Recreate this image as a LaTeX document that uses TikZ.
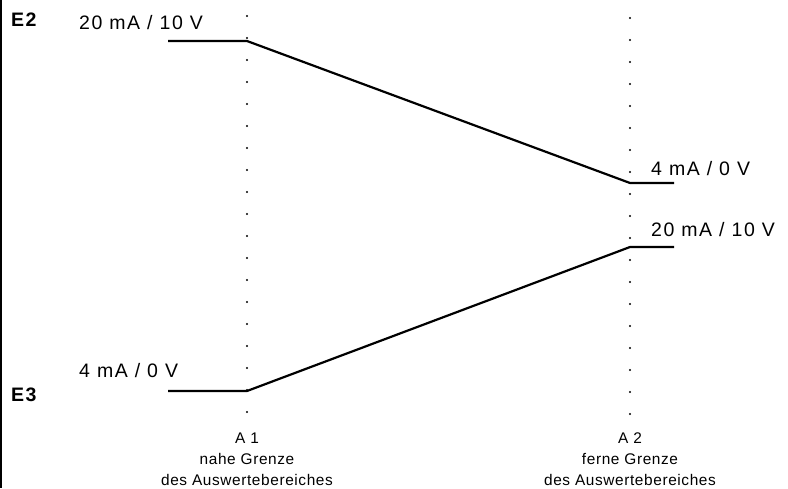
\documentclass[tikz,border=0pt]{standalone}
\usepackage{fontspec}
\setmainfont{Liberation Sans}[LetterSpace=8]
\newfontfamily\smallfont{Liberation Sans}[LetterSpace=4]
\begin{document}
\begin{tikzpicture}[x=1pt,y=-1pt,
  lab/.style={anchor=base west,inner sep=0pt,font=\fontsize{19.5}{19.5}\selectfont},
  tag/.style={anchor=base west,inner sep=0pt,font=\fontsize{19.5}{19.5}\selectfont\bfseries},
  note/.style={anchor=base,align=center,inner sep=0pt,font=\smallfont\fontsize{15.4}{21}\selectfont},
  curve/.style={line width=2.2pt},
  dot/.style={fill=black,circle,inner sep=0pt,minimum size=2.2pt}]
\useasboundingbox (0,0) rectangle (788,488);
% frame edge on the left
\draw[line width=1.5pt] (1,0) -- (1,488);
% dotted range limits
\foreach \k in {0,...,18}{
  \node[dot] at (247,{16+22*\k}) {};
  \node[dot] at (630,{18+22*\k}) {};
}
% corner points of the two characteristics
\coordinate (e2a) at (168,41);
\coordinate (e2b) at (247,41);
\coordinate (e2c) at (630,183);
\coordinate (e2d) at (674,183);
\coordinate (e3a) at (168,391);
\coordinate (e3b) at (247,391);
\coordinate (e3c) at (630,247);
\coordinate (e3d) at (674,247);
\draw[curve] (e2a) -- (e2b) -- (e2c) -- (e2d);
\draw[curve] (e3a) -- (e3b) -- (e3c) -- (e3d);
% labels
\node[tag] (E2) at (11,26) {E2};
\node[tag] (E3) at (11,401.5) {E3};
\node[lab] (l1) at (79,29) {20 mA / 10 V};
\node[lab] (l2) at (79,377.5) {4 mA / 0 V};
\node[lab] (r1) at (651,175) {4 mA / 0 V};
\node[lab] (r2) at (651,236) {20 mA / 10 V};
% range limits, last line on the baseline given
\node[note] (A1) at (247,485) {A 1\\nahe Grenze\\des Auswertebereiches};
\node[note] (A2) at (630,485) {A 2\\ferne Grenze\\des Auswertebereiches};
\end{tikzpicture}
\end{document}
